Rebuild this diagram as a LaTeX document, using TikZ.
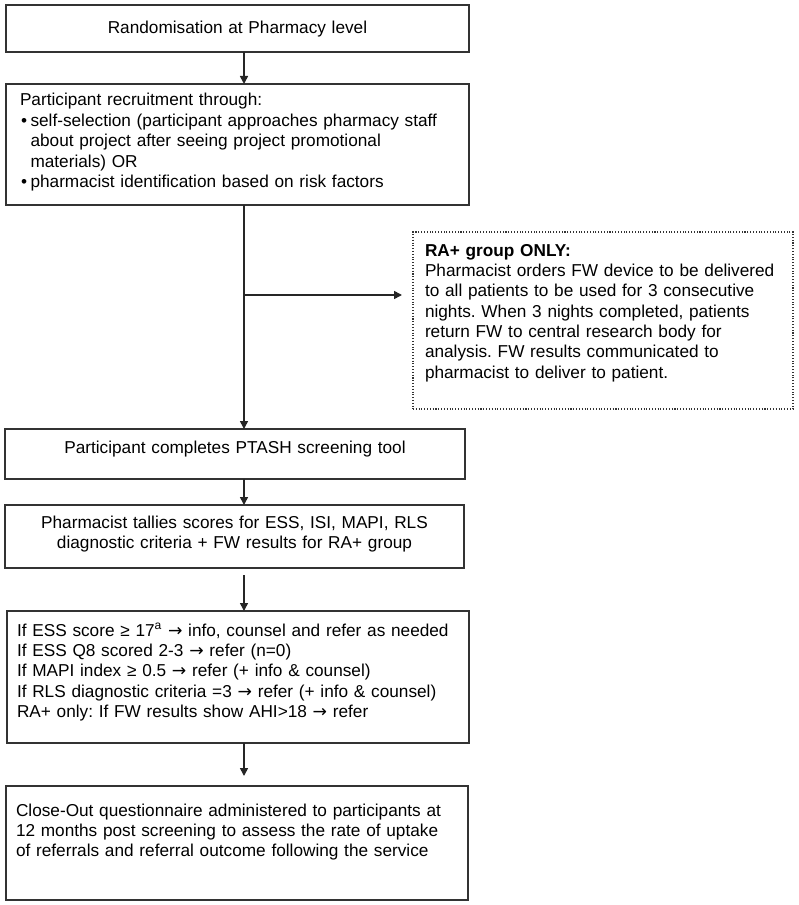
\documentclass[tikz,border=0pt]{standalone}
\usepackage{fontspec}
\setmainfont{Liberation Sans}
\newfontfamily\symfont{DejaVu Sans}
\newcommand{\rarr}{{\symfont\char"2192}}
\usetikzlibrary{arrows.meta}

\begin{document}
\frenchspacing
\begin{tikzpicture}[
		font=\fontsize{9.8}{11.6}\selectfont,
		stage/.style={rectangle, draw=black!80, line width=1pt, anchor=north west, inner ysep=0pt, outer sep=0pt},
		side/.style={rectangle, draw=black!80, densely dotted, line width=0.6pt, anchor=north west, inner ysep=0pt, outer sep=0pt},
		arrow/.style={-{Triangle[length=1.6mm,width=1.6mm]}, line width=0.9pt, black!85}
	]
		\useasboundingbox (0,0) rectangle (15.96,-18.10);
		
		% Main column
		\node[stage, inner xsep=0.28cm, text width=8.70cm, text height=0.58cm, text depth=0.36cm, align=center] (rand) at (0.12,-0.10) {Randomisation at Pharmacy level};
		\node[stage, inner xsep=0.24cm, text width=8.78cm, text height=0.44cm, text depth=1.98cm, align=left] (recruit) at (0.12,-1.68) {\hspace{0.04cm}Participant recruitment through:\\
			\hspace{0.06cm}\textbullet\hspace{0.07cm}self-selection (participant approaches pharmacy staff\\
			\hspace{0.06cm}\phantom{\textbullet}\hspace{0.07cm}about project after seeing project promotional\\
			\hspace{0.06cm}\phantom{\textbullet}\hspace{0.07cm}materials) OR\\
			\hspace{0.06cm}\textbullet\hspace{0.07cm}pharmacist identification based on risk factors};
		\node[stage, inner xsep=0.20cm, text width=8.80cm, text height=0.48cm, text depth=0.52cm, align=center] (ptash) at (0.10,-8.58) {Participant completes PTASH screening tool};
		\node[stage, inner xsep=0.20cm, text width=8.78cm, text height=0.46cm, text depth=0.80cm, align=center] (tally) at (0.10,-10.10) {Pharmacist tallies scores for ESS, ISI, MAPI, RLS\\diagnostic criteria + FW results for RA+ group};
		\node[stage, inner xsep=0.14cm, text width=8.96cm, text height=0.50cm, text depth=2.14cm, align=left] (rules) at (0.14,-12.22) {\hspace{0.06cm}If ESS score ≥ 17\textsuperscript{a} \rarr\ info, counsel and refer as needed\\
			\hspace{0.06cm}If ESS Q8 scored 2-3 \rarr\ refer (n=0)\\
			\hspace{0.06cm}If MAPI index ≥ 0.5 \rarr\ refer (+ info \& counsel)\\
			\hspace{0.06cm}If RLS diagnostic criteria =3 \rarr\ refer (+ info \& counsel)\\
			\hspace{0.06cm}RA+ only: If FW results show AHI>18 \rarr\ refer};
		\node[stage, inner xsep=0.14cm, text width=8.96cm, text height=0.60cm, text depth=1.68cm, align=left] (close) at (0.12,-15.72) {\hspace{0.06cm}Close-Out questionnaire administered to participants at\\
			\hspace{0.06cm}12 months post screening to assess the rate of uptake\\
			\hspace{0.06cm}of referrals and referral outcome following the service};
		
		% RA+ branch
		\node[side, inner xsep=0.16cm, text width=7.28cm, text height=0.48cm, text depth=3.06cm, align=left] (ra) at (8.26,-4.64) {\hspace{0.08cm}\textbf{RA+ group ONLY:}\\
			\hspace{0.08cm}Pharmacist orders FW device to be delivered\\
			\hspace{0.08cm}to all patients to be used for 3 consecutive\\
			\hspace{0.08cm}nights. When 3 nights completed, patients\\
			\hspace{0.08cm}return FW to central research body for\\
			\hspace{0.08cm}analysis. FW results communicated to\\
			\hspace{0.08cm}pharmacist to deliver to patient.};
		
		% Arrows
		\coordinate (spine) at (4.88,0);
		\coordinate (fork) at (4.88,-5.90);
		\draw[arrow] (rand.south -| spine) -- (recruit.north -| spine);
		\draw[arrow] (recruit.south -| spine) -- (ptash.north -| spine);
		\draw[arrow, shorten >=0.22cm] (fork) -- (fork -| ra.west);
		\draw[arrow] (ptash.south -| spine) -- (tally.north -| spine);
		\draw[arrow, shorten <=0.14cm] (tally.south -| spine) -- (rules.north -| spine);
		\draw[arrow, shorten >=0.20cm] (rules.south -| spine) -- (close.north -| spine);
	\end{tikzpicture}
\end{document}
